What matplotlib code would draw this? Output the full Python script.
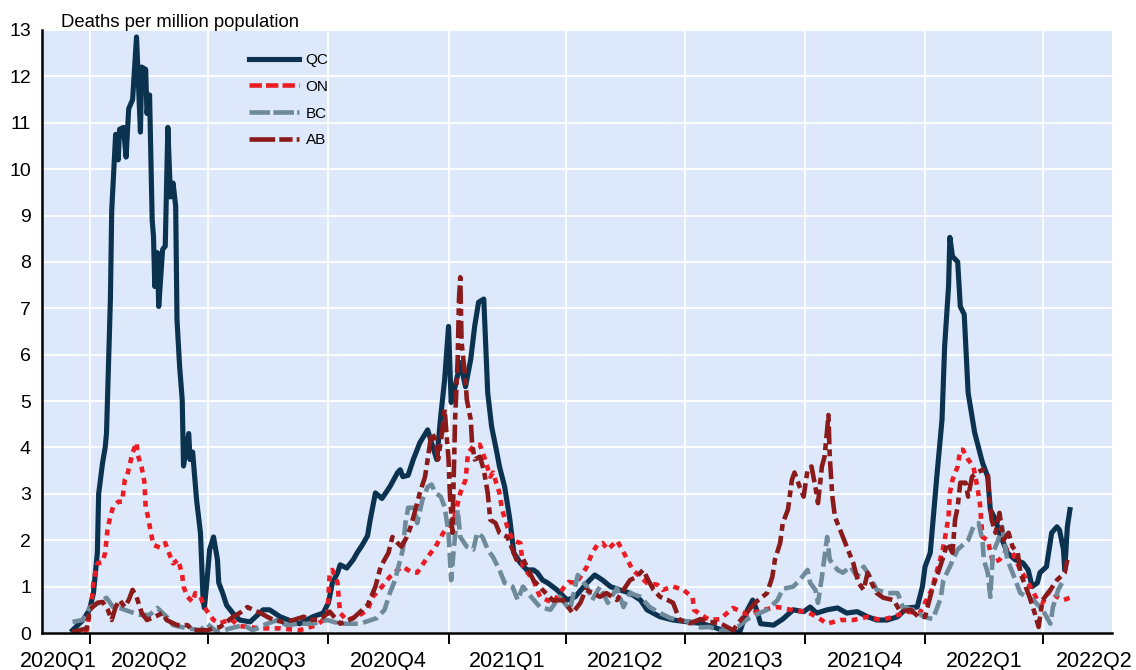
import matplotlib
matplotlib.use("Agg")
import matplotlib.pyplot as plt
import matplotlib.transforms as mtransforms
from matplotlib.lines import Line2D
import pandas as pd

plt.rcParams['font.family'] = ['Liberation Sans', 'DejaVu Sans']

# ---------------- data (days since 2020-04-01, deaths per million) ----------------
BASE_DATE = "2020-04-01"

qc_days = [-13, -5, 0, 3, 6, 7, 10, 12, 13, 16, 17, 20, 22, 23, 26, 28, 30, 33, 36, 39, 40, 43, 44, 46,
           48, 49, 50, 52, 53, 56, 58, 60, 62, 64, 66, 67, 69, 71, 72, 76, 77, 79, 82, 85, 87, 88, 90, 92,
           95, 98, 99, 102, 105, 110, 115, 123, 133, 138, 146, 156, 161, 171, 179, 183, 186, 190, 192,
           197, 202, 205, 209, 213, 215, 219, 224, 230, 236, 238, 240, 244, 248, 253, 259, 262, 266, 269,
           272, 275, 277, 280, 284, 288, 292, 295, 298, 302, 305, 308, 312, 314, 318, 322, 325, 330, 335,
           340, 343, 347, 351, 358, 366, 372, 381, 387, 393, 399, 406, 414, 422, 427, 437, 447, 458, 468,
           478, 488, 498, 504, 508, 511, 514, 524, 531, 539, 547, 552, 557, 565, 573, 580, 588, 596, 603,
           611, 619, 626, 634, 638, 640, 644, 649, 653, 655, 658, 659, 661, 665, 667, 670, 673, 676, 678,
           684, 688, 690, 694, 697, 703, 709, 715, 719, 722, 726, 728, 733, 737, 741, 743, 746, 747, 749, 751]
qc_vals = [0.06, 0.28, 0.5, 0.86, 1.73, 3.0, 3.67, 4.0, 4.3, 7.2, 9.1, 10.75, 10.2, 10.86, 10.9, 10.26, 11.3,
           11.5, 12.85, 10.8, 12.2, 12.15, 11.2, 11.6, 8.9, 8.55, 7.47, 8.2, 7.04, 8.27, 8.34, 10.9, 9.4,
           9.7, 9.2, 6.76, 5.75, 5.03, 3.6, 4.3, 3.74, 3.9, 2.87, 2.15, 0.71, 0.54, 1.14, 1.8, 2.07, 1.58,
           1.08, 0.86, 0.6, 0.42, 0.28, 0.24, 0.5, 0.5, 0.35, 0.24, 0.2, 0.35, 0.43, 0.65, 1.08, 1.3, 1.47,
           1.4, 1.58, 1.73, 1.9, 2.1, 2.44, 3.02, 2.9, 3.15, 3.46, 3.52, 3.37, 3.4, 3.74, 4.1, 4.38, 4.1,
           3.74, 4.67, 5.46, 6.61, 4.97, 5.31, 5.83, 5.31, 5.9, 6.61, 7.13, 7.2, 5.18, 4.45, 3.89, 3.59,
           3.15, 2.44, 1.73, 1.51, 1.36, 1.36, 1.3, 1.14, 1.08, 0.93, 0.71, 0.78, 1.08, 1.25, 1.14, 1.0,
           0.93, 0.86, 0.71, 0.5, 0.35, 0.28, 0.24, 0.21, 0.13, 0.02, 0.02, 0.5, 0.71, 0.5, 0.2, 0.17,
           0.3, 0.5, 0.46, 0.56, 0.43, 0.5, 0.54, 0.43, 0.46, 0.35, 0.28, 0.28, 0.35, 0.54, 0.56, 1.0,
           1.43, 1.73, 3.37, 4.6, 6.18, 7.47, 8.53, 8.12, 8.0, 7.04, 6.87, 5.18, 4.67, 4.32, 3.67, 3.37,
           2.66, 2.44, 2.16, 1.73, 1.58, 1.51, 1.36, 1.0, 1.08, 1.3, 1.43, 2.16, 2.29, 2.22, 1.8, 1.36,
           2.29, 2.66]

on_days = [-13, -2, 2, 3, 6, 10, 12, 14, 18, 22, 25, 27, 29, 33, 36, 37, 40, 42, 43, 45, 47, 49, 54, 58,
           62, 64, 68, 71, 72, 75, 79, 81, 85, 88, 91, 95, 100, 108, 115, 131, 146, 161, 174, 182, 183,
           184, 186, 190, 191, 192, 197, 205, 213, 217, 224, 230, 236, 240, 246, 251, 259, 265, 271, 279,
           284, 288, 290, 294, 299, 303, 307, 309, 314, 316, 320, 324, 330, 332, 340, 345, 355, 363, 367,
           373, 381, 385, 389, 393, 397, 404, 408, 412, 416, 422, 427, 435, 439, 447, 455, 462, 463, 468,
           475, 483, 493, 504, 516, 527, 537, 550, 557, 565, 575, 585, 596, 606, 616, 626, 636, 645, 650,
           653, 655, 658, 659, 661, 665, 667, 669, 673, 677, 680, 682, 684, 688, 692, 697, 703, 707, 713,
           718, 722, 726, 730, 736, 741, 746, 751]
on_vals = [0.02, 0.06, 0.78, 1.1, 1.5, 1.53, 1.73, 2.29, 2.72, 2.83, 2.83, 3.3, 3.41, 3.89, 4.1, 3.84,
           3.56, 3.26, 2.72, 2.48, 2.16, 1.9, 1.84, 1.94, 1.64, 1.5, 1.58, 1.25, 1.0, 0.78, 0.67, 0.86,
           0.78, 0.56, 0.43, 0.28, 0.21, 0.3, 0.15, 0.1, 0.1, 0.06, 0.17, 0.35, 0.78, 1.3, 1.36, 1.08,
           0.71, 0.43, 0.28, 0.35, 0.5, 0.78, 1.0, 1.21, 1.36, 1.43, 1.32, 1.3, 1.64, 1.86, 2.16, 2.44,
           3.02, 3.3, 3.89, 4.02, 4.06, 3.74, 3.37, 3.46, 3.02, 2.66, 2.29, 2.0, 1.94, 1.43, 1.14, 0.78,
           0.65, 0.97, 1.1, 1.08, 1.43, 1.73, 1.9, 1.94, 1.8, 1.99, 1.8, 1.58, 1.36, 1.21, 1.08, 1.04,
           0.93, 1.0, 0.93, 0.76, 0.5, 0.4, 0.28, 0.3, 0.54, 0.4, 0.5, 0.56, 0.5, 0.45, 0.35, 0.2, 0.28,
           0.28, 0.35, 0.28, 0.35, 0.46, 0.43, 0.93, 1.43, 1.73, 2.0, 2.51, 3.02, 3.3, 3.59, 3.95, 3.95,
           3.74, 3.59, 3.15, 2.8, 2.07, 2.0, 1.51, 1.58, 1.8, 1.73, 1.36, 1.14, 0.93, 0.71, 0.65, 0.93,
           0.78, 0.71, 0.76]

bc_days = [-13, -5, 0, 7, 13, 18, 23, 31, 39, 46, 52, 59, 64, 75, 85, 90, 98, 108, 118, 125, 136, 144,
           151, 161, 171, 182, 192, 207, 220, 226, 230, 234, 236, 240, 242, 244, 249, 251, 255, 259, 262,
           265, 269, 272, 275, 277, 279, 282, 284, 289, 294, 297, 301, 305, 309, 314, 318, 324, 328, 332,
           337, 345, 353, 360, 368, 374, 381, 385, 391, 397, 404, 409, 414, 422, 429, 437, 445, 452, 460,
           468, 475, 483, 493, 504, 511, 519, 527, 531, 539, 544, 550, 552, 556, 558, 561, 563, 565, 567,
           573, 577, 583, 588, 593, 598, 603, 611, 619, 623, 631, 639, 646, 652, 654, 659, 665, 669, 673,
           677, 681, 684, 685, 688, 690, 692, 696, 699, 703, 707, 713, 718, 723, 730, 736, 738, 742, 746]
bc_vals = [0.24, 0.28, 0.54, 0.65, 0.76, 0.56, 0.54, 0.46, 0.39, 0.39, 0.54, 0.35, 0.17, 0.1, 0.06, 0.2,
           0.02, 0.1, 0.17, 0.06, 0.2, 0.28, 0.17, 0.2, 0.2, 0.28, 0.2, 0.2, 0.32, 0.5, 0.86, 1.14, 1.36,
           1.8, 2.37, 2.7, 2.7, 2.37, 2.87, 3.15, 3.2, 3.02, 2.94, 2.72, 2.16, 1.14, 1.8, 2.66, 2.07, 1.86,
           1.8, 2.16, 2.07, 1.8, 1.64, 1.36, 1.08, 1.0, 0.71, 1.0, 0.82, 0.56, 0.5, 0.78, 0.5, 1.25, 1.0,
           0.71, 1.0, 0.65, 0.97, 0.56, 0.86, 0.78, 0.56, 0.43, 0.32, 0.28, 0.24, 0.12, 0.13, 0.05, 0.05,
           0.3, 0.4, 0.5, 0.71, 0.95, 1.0, 1.14, 1.36, 1.08, 0.93, 0.65, 1.21, 1.64, 2.07, 1.58, 1.36,
           1.3, 1.43, 1.21, 1.43, 1.21, 0.93, 0.86, 0.86, 0.56, 0.5, 0.35, 0.3, 0.75, 1.14, 1.43, 1.8, 1.9,
           2.0, 2.29, 2.37, 2.0, 1.58, 1.3, 0.78, 1.73, 2.0, 2.29, 1.58, 1.3, 0.86, 0.78, 0.71, 0.5, 0.2,
           0.56, 0.93, 1.14]

ab_days = [-13, -2, 0, 6, 10, 14, 17, 20, 23, 27, 30, 33, 36, 40, 44, 50, 56, 59, 67, 75, 79, 90, 100,
           110, 115, 121, 125, 131, 136, 141, 148, 156, 164, 169, 177, 184, 192, 202, 213, 219, 223, 226,
           229, 232, 236, 239, 243, 246, 249, 253, 257, 259, 262, 265, 267, 270, 272, 275, 276, 278, 280,
           282, 283, 284, 285, 288, 289, 292, 293, 295, 299, 302, 305, 307, 311, 314, 320, 324, 327, 332,
           335, 340, 347, 355, 363, 370, 376, 380, 386, 391, 396, 404, 409, 414, 419, 424, 428, 432, 437,
           443, 447, 452, 460, 468, 475, 483, 493, 498, 506, 511, 519, 523, 525, 529, 531, 535, 538, 540,
           544, 547, 550, 553, 556, 558, 561, 563, 565, 566, 567, 569, 571, 575, 580, 585, 589, 593, 596,
           599, 603, 608, 616, 621, 629, 635, 640, 644, 646, 650, 654, 657, 661, 663, 665, 667, 671, 673,
           676, 680, 684, 688, 689, 691, 694, 697, 700, 704, 707, 711, 713, 717, 720, 724, 727, 730, 736,
           741, 747, 749]
ab_vals = [0.02, 0.1, 0.5, 0.65, 0.67, 0.5, 0.28, 0.56, 0.71, 0.56, 0.71, 0.93, 0.78, 0.43, 0.28, 0.35,
           0.43, 0.28, 0.17, 0.17, 0.06, 0.06, 0.13, 0.35, 0.43, 0.56, 0.5, 0.43, 0.35, 0.28, 0.24, 0.28,
           0.35, 0.28, 0.3, 0.46, 0.2, 0.32, 0.6, 1.0, 1.43, 1.58, 1.73, 2.07, 1.94, 1.86, 2.07, 2.29, 2.59,
           3.02, 3.37, 3.74, 4.32, 4.17, 3.74, 4.32, 4.82, 3.74, 3.02, 2.16, 4.6, 5.9, 7.2, 7.67, 6.26,
           5.46, 5.03, 4.6, 4.1, 3.74, 3.8, 3.52, 3.02, 2.44, 2.37, 2.16, 2.07, 1.8, 1.58, 1.6, 1.43, 1.14,
           0.93, 0.7, 0.71, 0.43, 0.65, 0.93, 0.86, 0.78, 0.86, 0.71, 0.93, 1.14, 1.21, 1.36, 1.14, 0.93,
           0.78, 0.71, 0.65, 0.28, 0.21, 0.3, 0.24, 0.21, 0.06, 0.25, 0.53, 0.68, 0.86, 1.21, 1.58, 1.94,
           2.37, 2.66, 3.3, 3.46, 3.15, 2.94, 3.52, 3.59, 3.15, 2.8, 3.59, 3.8, 4.38, 4.7, 3.8, 2.94, 2.5,
           2.22, 1.86, 1.51, 1.08, 0.93, 1.3, 1.08, 0.86, 0.76, 0.71, 0.46, 0.5, 0.35, 0.35, 0.78, 1.0,
           1.3, 1.64, 1.94, 1.73, 2.44, 2.72, 3.24, 3.24, 2.94, 3.37, 3.46, 3.52, 3.46, 2.94, 2.44, 2.16,
           2.59, 2.0, 2.16, 1.86, 1.73, 1.3, 1.0, 0.78, 0.43, 0.13, 0.71, 0.93, 1.14, 1.3, 1.58]

series_names = ["QC", "ON", "BC", "AB"]
quarter_labels = ["2020Q1", "2020Q2", "2020Q3", "2020Q4", "2021Q1", "2021Q2",
                  "2021Q3", "2021Q4", "2022Q1", "2022Q2"]
y_ticks = list(range(0, 14))

# ---------------- styling ----------------
colors = {"QC": "#0b3350", "ON": "#ec1c24", "BC": "#6e8a9b", "AB": "#8b1a1a"}
plot_dashes = {"QC": None, "ON": (1.3, 1.2), "BC": (3.3, 1.2), "AB": (3.9, 1.1, 1.5, 1.1)}
legend_dashes = {"QC": None, "ON": (2.7, 0.9), "BC": (4.5, 0.7), "AB": (5.6, 0.9, 2.9, 0.9)}
widths = {"QC": 3.7, "ON": 3.3, "BC": 3.3, "AB": 3.3}

W, H = 1136, 670
fig = plt.figure(figsize=(W / 100, H / 100), dpi=100)
ax_l, ax_r, ax_t, ax_b = 42, 1112, 30, 633
ax = fig.add_axes([ax_l / W, (H - ax_b) / H, (ax_r - ax_l) / W, (ax_b - ax_t) / H])
ax.set_facecolor("#dde9fa")

data = {"QC": (qc_days, qc_vals), "ON": (on_days, on_vals),
        "BC": (bc_days, bc_vals), "AB": (ab_days, ab_vals)}

handles = []
for name in series_names:
    d, v = data[name]
    ln, = ax.plot(d, v, color=colors[name], lw=widths[name])
    if plot_dashes[name] is not None:
        ln.set_dashes(plot_dashes[name])
        ln.set_dash_capstyle("butt")
    h = Line2D([0], [0], color=colors[name], lw=widths[name])
    if legend_dashes[name] is not None:
        h.set_dashes(legend_dashes[name])
        h.set_dash_capstyle("butt")
    handles.append(h)

# quarters
base = pd.Timestamp(BASE_DATE)
q_starts = pd.date_range("2020-01-01", "2022-07-01", freq="QS")
q_days = [(q - base).days for q in q_starts]

ax.set_xlim(-36.4, 783.2)
ax.set_ylim(0, 13)

inner = [d for d in q_days if -36.4 < d < 783.2]
ax.set_xticks(inner)
ax.set_xticklabels([])
ax.tick_params(axis="x", length=8, width=1.4, color="black", direction="out")
ax.set_yticks(y_ticks)
ax.set_yticklabels([str(t) for t in y_ticks], fontsize=14)
ax.tick_params(axis="y", length=0, pad=8)

ax.grid(True, color="white", lw=1.3)
ax.set_axisbelow(True)
for s in ["top", "right"]:
    ax.spines[s].set_visible(False)
for s in ["left", "bottom"]:
    ax.spines[s].set_color("black")
    ax.spines[s].set_linewidth(1.8)

# quarter labels centred on each quarter, kept inside the figure
trans = mtransforms.blended_transform_factory(ax.transData, fig.transFigure)
label_y = (H - 661) / H
for i, lab in enumerate(quarter_labels):
    mid = (q_days[i] + q_days[i + 1]) / 2
    if i == 0:
        fig.text(20 / W, label_y, lab, fontsize=15.5, ha="left", va="center")
    elif i == len(quarter_labels) - 1:
        fig.text(1133 / W, label_y, lab, fontsize=15.5, ha="right", va="center")
    else:
        ax.text(mid, label_y, lab, transform=trans, fontsize=15.5, ha="center",
                va="center", clip_on=False)

fig.text(61 / W, (H - 27) / H, "Deaths per million population", fontsize=13.3,
         ha="left", va="baseline")

leg = ax.legend(handles, series_names, loc="upper left",
                bbox_to_anchor=((249 - ax_l) / (ax_r - ax_l), (ax_b - 53) / (ax_b - ax_t)),
                frameon=False, fontsize=11, handlelength=3.25, handletextpad=0.45,
                labelspacing=0.84, borderpad=0, borderaxespad=0)

fig.savefig("out.png", dpi=100)
